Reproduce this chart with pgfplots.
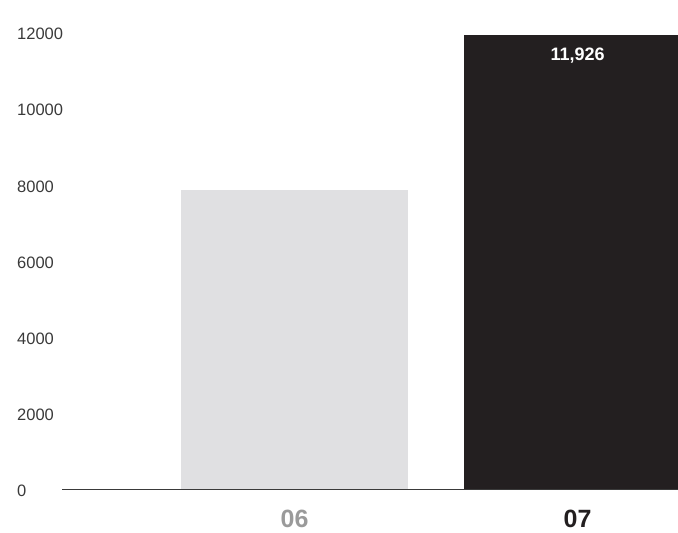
\documentclass[border=0pt]{standalone}
\usepackage{pgfplots}
\pgfplotsset{compat=1.18}
\usepackage{fontspec}
\setmainfont{Liberation Sans}
\definecolor{barlight}{HTML}{E0E0E2}
\definecolor{bardark}{HTML}{231F20}
\definecolor{labgray}{HTML}{9A9A9A}
\definecolor{ticktxt}{HTML}{3A3A3A}
\begin{document}
\begin{tikzpicture}
\useasboundingbox (0,0) rectangle (678bp,533bp);
\begin{axis}[
  at={(62bp,44bp)}, anchor=south west,
  scale only axis,
  width=616bp, height=457bp,
  xmin=-0.822, xmax=1.355,
  ymin=0, ymax=12000,
  axis x line*=bottom,
  axis y line*=left,
  y axis line style={draw=none},
  x axis line style={-, draw=ticktxt, line width=1pt},
  ytick={0,2000,4000,6000,8000,10000,12000},
  xtick={0,1},
  xticklabels={\textcolor{labgray}{06},\textcolor{bardark}{07}},
  major tick length=0pt,
  /pgf/number format/assume math mode=true,
  scaled y ticks=false,
  yticklabel={\pgfmathprintnumber[fixed,1000 sep={}]{\tick}},
  yticklabel style={font=\fontsize{16.5bp}{18bp}\selectfont, text=ticktxt, anchor=west, inner sep=0pt, xshift=-45bp, yshift=-2bp},
  xticklabel style={font=\fontsize{25bp}{26bp}\selectfont\bfseries, anchor=north, inner sep=0pt, yshift=-21bp},
  bar width=227bp,
  ybar=0pt, bar shift=0pt,
]
\addplot[ybar, fill=barlight, draw=none] coordinates {(0,7850)};
\addplot[ybar, fill=bardark, draw=none,
  nodes near coords={11,926},
  every node near coord/.append style={anchor=north, text=white, font=\fontsize{18bp}{20bp}\selectfont\bfseries, yshift=-10bp}
] coordinates {(1,11926)};
\end{axis}
\end{tikzpicture}
\end{document}
